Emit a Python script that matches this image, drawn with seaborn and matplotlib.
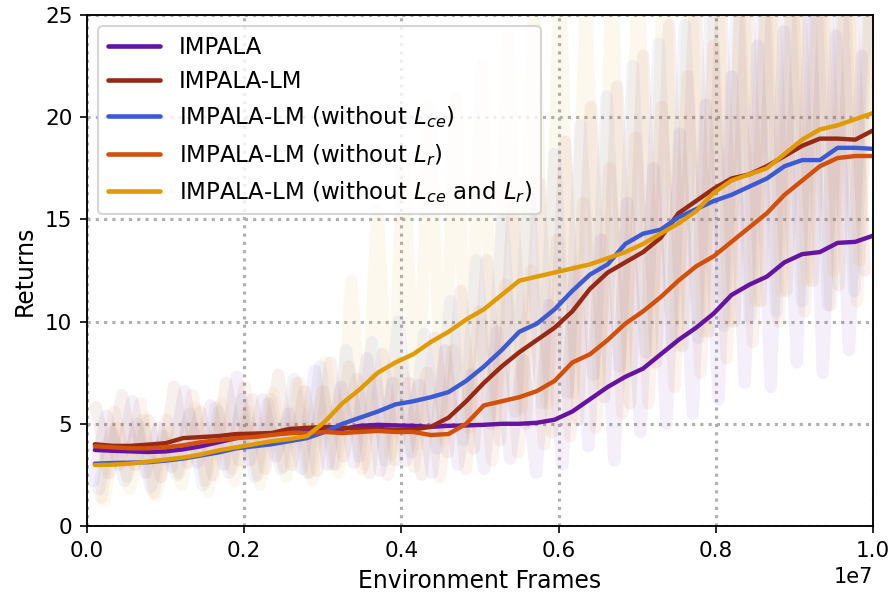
import numpy as np
import pandas as pd
import seaborn as sns
import matplotlib.pyplot as plt

# smoothed curves (x in units of 1e7 frames)
smooth_x = [0.01, 0.0325, 0.055, 0.0775, 0.1, 0.1225, 0.145, 0.1675, 0.19, 0.2125,
            0.235, 0.2575, 0.28, 0.3025, 0.325, 0.3475, 0.37, 0.3925, 0.415, 0.4375,
            0.46, 0.4825, 0.505, 0.5275, 0.55, 0.5725, 0.595, 0.6175, 0.64, 0.6625,
            0.685, 0.7075, 0.73, 0.7525, 0.775, 0.7975, 0.82, 0.8425, 0.865, 0.8875,
            0.91, 0.9325, 0.955, 0.9775, 1.0]

impala = [3.72, 3.68, 3.65, 3.62, 3.65, 3.75, 3.9, 4.1, 4.3, 4.45,
          4.5, 4.55, 4.6, 4.65, 4.75, 4.9, 4.95, 4.92, 4.9, 4.85,
          4.9, 4.92, 4.95, 5.0, 5.0, 5.05, 5.2, 5.6, 6.2, 6.8,
          7.3, 7.7, 8.4, 9.1, 9.7, 10.4, 11.3, 11.8, 12.2, 12.9,
          13.3, 13.4, 13.85, 13.9, 14.2]
impala_lm = [4.0, 3.92, 3.92, 3.98, 4.05, 4.3, 4.35, 4.4, 4.5, 4.52,
             4.55, 4.75, 4.8, 4.85, 4.8, 4.75, 4.75, 4.7, 4.72, 4.85,
             5.3, 6.1, 7.0, 7.8, 8.5, 9.1, 9.7, 10.5, 11.6, 12.4,
             12.9, 13.4, 14.1, 15.3, 15.9, 16.5, 17.0, 17.2, 17.6, 18.1,
             18.6, 18.95, 18.95, 18.9, 19.35]
no_lce = [3.05, 3.08, 3.1, 3.12, 3.2, 3.3, 3.45, 3.6, 3.8, 3.9,
          4.0, 4.15, 4.3, 4.6, 5.0, 5.3, 5.6, 5.95, 6.1, 6.3,
          6.55, 7.1, 7.8, 8.6, 9.5, 9.9, 10.6, 11.5, 12.3, 12.8,
          13.8, 14.3, 14.5, 15.1, 15.5, 15.9, 16.2, 16.6, 17.0, 17.6,
          17.9, 17.9, 18.5, 18.5, 18.45]
no_lr = [3.9, 3.85, 3.8, 3.8, 3.85, 3.95, 4.1, 4.2, 4.3, 4.35,
         4.45, 4.55, 4.55, 4.6, 4.55, 4.6, 4.65, 4.6, 4.6, 4.45,
         4.5, 5.0, 5.9, 6.1, 6.3, 6.6, 7.1, 8.0, 8.4, 9.1,
         9.9, 10.5, 11.2, 12.0, 12.7, 13.2, 13.9, 14.6, 15.3, 16.2,
         16.9, 17.6, 18.0, 18.1, 18.1]
no_both = [2.98, 3.0, 3.05, 3.15, 3.25, 3.35, 3.5, 3.7, 3.85, 4.0,
           4.15, 4.25, 4.4, 5.1, 6.0, 6.7, 7.5, 8.0, 8.4, 9.0,
           9.5, 10.1, 10.6, 11.3, 12.0, 12.2, 12.4, 12.6, 12.8, 13.1,
           13.4, 13.8, 14.3, 14.8, 15.4, 16.3, 16.9, 17.2, 17.5, 18.2,
           18.9, 19.4, 19.6, 19.9, 20.2]

# raw (unsmoothed) returns, drawn faintly behind
impala_raw = [2.2, 5.4, 3.0, 6.1, 2.6, 4.8, 2.9, 6.6, 3.1, 5.9, 3.0, 7.3, 3.2, 6.2, 3.4,
              5.5, 2.8, 7.6, 3.0, 6.8, 3.1, 8.2, 2.7, 7.0, 3.2, 6.9, 2.6, 8.6, 3.0, 7.4,
              2.8, 9.5, 3.3, 8.1, 2.6, 10.8, 3.0, 12.5, 3.9, 14.0, 3.2, 15.8, 4.6, 17.5, 5.0,
              19.2, 5.5, 20.6, 6.2, 22.0, 7.0, 23.5, 6.8, 24.2, 8.0, 25.5, 7.5, 24.0, 8.6, 23.0]
impala_lm_raw = [5.8, 2.6, 6.4, 3.0, 5.2, 2.4, 6.8, 3.1, 5.6, 2.5, 7.0, 3.2, 6.2, 2.8, 7.4,
                 3.0, 6.6, 2.7, 8.0, 3.4, 7.2, 2.6, 8.4, 3.2, 7.0, 2.5, 9.2, 3.6, 11.5, 3.8,
                 13.0, 4.2, 15.5, 5.0, 16.8, 4.6, 18.8, 5.2, 20.5, 6.3, 21.5, 6.0, 23.0, 8.0, 24.5,
                 8.8, 26.0, 9.5, 25.2, 10.0, 26.5, 11.0, 27.0, 11.5, 26.0, 12.0, 27.5, 11.8, 26.5, 12.5]
no_lce_raw = [1.8, 4.6, 2.2, 5.0, 1.9, 4.4, 2.5, 5.5, 2.0, 5.8, 2.6, 6.2, 2.4, 6.0, 2.8,
              7.2, 2.6, 7.8, 3.0, 8.6, 3.4, 9.0, 3.2, 10.0, 3.6, 9.4, 3.8, 11.0, 4.2, 13.0,
              5.0, 15.0, 5.6, 16.5, 6.0, 18.2, 6.5, 19.6, 7.4, 21.0, 7.8, 22.5, 8.5, 23.6, 9.0,
              24.5, 9.2, 25.5, 9.8, 26.0, 10.2, 26.5, 10.5, 26.2, 11.0, 27.0, 10.8, 26.5, 11.5, 26.0]
no_lr_raw = [1.4, 5.6, 2.4, 6.0, 1.6, 5.2, 2.6, 6.4, 2.2, 5.6, 2.8, 6.8, 2.5, 6.2, 2.9,
             7.0, 2.6, 6.6, 3.0, 7.8, 2.8, 7.2, 2.5, 8.0, 2.9, 7.5, 2.4, 8.6, 2.8, 10.5,
             3.2, 11.8, 3.6, 12.5, 4.0, 14.0, 4.4, 15.8, 4.8, 17.5, 5.5, 19.0, 6.0, 20.5, 6.8,
             22.0, 7.5, 23.5, 8.2, 25.0, 9.0, 26.0, 10.0, 27.0, 10.5, 27.5, 10.8, 27.0, 11.0, 26.5]
no_both_raw = [1.2, 4.8, 1.8, 5.2, 1.5, 4.6, 2.0, 5.8, 1.7, 6.0, 2.2, 5.6, 2.0, 6.5, 2.4,
               7.0, 2.2, 8.0, 2.6, 12.0, 3.0, 15.5, 3.5, 18.0, 4.0, 20.5, 4.2, 21.0, 4.8, 22.5,
               5.0, 24.0, 5.8, 25.5, 6.0, 26.5, 6.5, 26.0, 7.0, 27.0, 7.5, 27.5, 8.0, 28.0, 8.8,
               28.0, 9.5, 28.5, 10.0, 28.0, 11.0, 28.5, 11.5, 28.0, 12.0, 28.5, 12.5, 28.0, 13.0, 28.0]

labels = ["IMPALA", "IMPALA-LM", r"IMPALA-LM (without $L_{ce}$)",
          r"IMPALA-LM (without $L_r$)", r"IMPALA-LM (without $L_{ce}$ and $L_r$)"]
colors = ["#6414a0", "#962814", "#3c5ad2", "#d2500a", "#e19b00"]
smooth = [impala, impala_lm, no_lce, no_lr, no_both]
raw = [impala_raw, impala_lm_raw, no_lce_raw, no_lr_raw, no_both_raw]

sns.set_style("ticks")
plt.rcParams["font.family"] = ["DejaVu Sans"]
plt.rcParams["mathtext.fontset"] = "dejavusans"
plt.rcParams["text.color"] = "black"
plt.rcParams["axes.labelcolor"] = "black"
plt.rcParams["xtick.color"] = "black"
plt.rcParams["ytick.color"] = "black"

fig, ax = plt.subplots(figsize=(5.953, 3.987), dpi=150)
fig.subplots_adjust(left=0.0974, right=0.9776, top=0.9749, bottom=0.1204)

# faint raw curves first; each run logged at slightly shifted frames
for k, (r, c) in enumerate(zip(raw, colors)):
    xr = np.linspace(0.008 + k * 0.0034, 0.986 + k * 0.0034, len(r)) * 1e7
    sns.lineplot(x=xr, y=r, color=c, alpha=0.065, lw=6, ax=ax,
                 solid_capstyle="round", solid_joinstyle="round")

for s, c, lab in zip(smooth, colors, labels):
    df = pd.DataFrame({"frames": np.array(smooth_x) * 1e7, "ret": s})
    sns.lineplot(data=df, x="frames", y="ret", color=c, lw=2.1, label=lab, ax=ax)

ax.set_xlim(0, 1e7)
ax.set_ylim(0, 25)
ax.set_xticks([0, 2e6, 4e6, 6e6, 8e6, 1e7])
ax.set_yticks([0, 5, 10, 15, 20, 25])
ax.grid(True, linestyle=":", color="#b0b0b0", lw=1.5)
ax.set_xlabel("Environment Frames", fontsize=11.3)
ax.set_ylabel("Returns", fontsize=11.3)
ax.tick_params(labelsize=10.3, length=3.5, width=0.8)
for sp in ax.spines.values():
    sp.set_color("black")
    sp.set_linewidth(0.9)

leg = ax.legend(loc="upper left", fontsize=11, handlelength=2.3, frameon=True,
                borderaxespad=0.5)
for line in leg.get_lines():
    line.set_linewidth(2.2)

fig.savefig("out.png", dpi=150)
